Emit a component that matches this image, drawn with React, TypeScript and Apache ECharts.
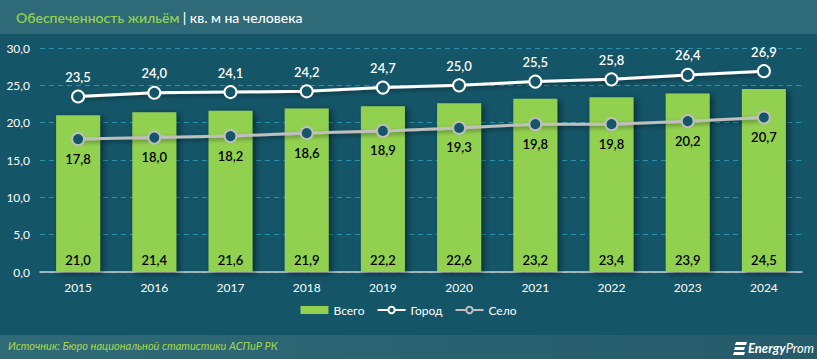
import React, { useEffect, useRef } from "react";
import * as echarts from "echarts";

const years = ["2015", "2016", "2017", "2018", "2019", "2020", "2021", "2022", "2023", "2024"];
const total = [21.0, 21.4, 21.6, 21.9, 22.2, 22.6, 23.2, 23.4, 23.9, 24.5];
const city = [23.5, 24.0, 24.1, 24.2, 24.7, 25.0, 25.5, 25.8, 26.4, 26.9];
const village = [17.8, 18.0, 18.2, 18.6, 18.9, 19.3, 19.8, 19.8, 20.2, 20.7];

const BG = "#145567";
const fmt = (v: number) => v.toFixed(1).replace(".", ",");
const FONT = "Lato";

export default function App() {
  const ref = useRef<HTMLDivElement>(null);
  useEffect(() => {
    document.body.style.margin = "0";
    const chart = echarts.init(ref.current!, undefined, { renderer: "svg" });
    chart.setOption({
      animation: false,
      backgroundColor: BG,
      textStyle: { fontFamily: FONT },
      grid: { left: 40, right: 15, top: 48, bottom: 87 },
      legend: {
        bottom: 38,
        left: "center",
        itemWidth: 28,
        itemHeight: 8,
        itemGap: 12,
        textStyle: { color: "#ffffff", fontSize: 12, fontFamily: FONT },
        data: [
          { name: "Всего", icon: "rect" },
          { name: "Город" },
          { name: "Село" },
        ],
      },
      xAxis: {
        type: "category",
        data: years,
        axisLine: { lineStyle: { color: "#d0d0d0", width: 1.5 } },
        axisTick: { show: false },
        axisLabel: { color: "#ffffff", fontSize: 12, margin: 9 },
      },
      yAxis: {
        type: "value",
        min: 0,
        max: 30,
        interval: 5,
        axisLine: { show: false },
        axisTick: { show: false },
        splitLine: { lineStyle: { color: "#2b93ad", type: [5, 4], width: 1 } },
        axisLabel: { color: "#ffffff", fontSize: 12, margin: 10, formatter: (v: number) => fmt(v) },
      },
      series: [
        {
          name: "Всего",
          type: "bar",
          data: total,
          barWidth: 44,
          itemStyle: {
            color: "#92d050",
            shadowColor: "rgba(0,0,0,0.45)",
            shadowBlur: 6,
            shadowOffsetX: 3,
            shadowOffsetY: 2,
          },
          label: {
            show: true,
            position: "insideBottom",
            distance: 6,
            color: "#000000",
            fontSize: 13,
            fontWeight: 600,
            formatter: (p: any) => fmt(p.value),
          },
          z: 1,
        },
        {
          name: "Город",
          type: "line",
          data: city,
          symbol: "circle",
          symbolSize: 12,
          lineStyle: { color: "#ffffff", width: 3, shadowColor: "rgba(0,0,0,0.4)", shadowBlur: 4, shadowOffsetY: 2 },
          itemStyle: { color: BG, borderColor: "#ffffff", borderWidth: 2 },
          label: {
            show: true,
            position: "top",
            distance: 6,
            color: "#ffffff",
            fontSize: 13,
            fontWeight: 600,
            formatter: (p: any) => fmt(p.value),
          },
          z: 3,
        },
        {
          name: "Село",
          type: "line",
          data: village,
          symbol: "circle",
          symbolSize: 12,
          lineStyle: { color: "#bfbfbf", width: 3, shadowColor: "rgba(0,0,0,0.4)", shadowBlur: 4, shadowOffsetY: 2 },
          itemStyle: { color: BG, borderColor: "#bfbfbf", borderWidth: 2 },
          label: {
            show: true,
            position: "bottom",
            distance: 6,
            color: "#000000",
            fontSize: 13,
            fontWeight: 600,
            formatter: (p: any) => fmt(p.value),
          },
          z: 3,
        },
      ],
      graphic: [
        {
          type: "rect",
          left: 0,
          top: 0,
          shape: { width: 817, height: 34 },
          style: {
            fill: new echarts.graphic.LinearGradient(0, 0, 1, 0, [
              { offset: 0, color: "#2f6a79" },
              { offset: 1, color: "#2f6a7b" },
            ]),
          },
          z: -1,
        },
        {
          type: "text",
          left: 16,
          top: 10,
          style: {
            text: "{g|Обеспеченность жильём} {w|| кв. м на человека}",
            rich: {
              g: { fill: "#92d050", fontSize: 14, fontWeight: 600, fontFamily: FONT },
              w: { fill: "#ffffff", fontSize: 14, fontWeight: 500, fontFamily: FONT },
            },
          },
        },
        {
          type: "rect",
          left: 0,
          top: 335,
          shape: { width: 817, height: 24 },
          style: {
            fill: new echarts.graphic.LinearGradient(0, 0, 1, 0, [
              { offset: 0, color: "#2f6a79" },
              { offset: 1, color: "#255a6a" },
            ]),
          },
          z: -1,
        },
        {
          type: "text",
          left: 8,
          top: 340,
          style: {
            text: "Источник: Бюро национальной статистики АСПиР РК",
            fill: "#a8d84a",
            fontSize: 11,
            fontStyle: "italic",
            fontFamily: FONT,
          },
        },
        {
          type: "group",
          left: 733,
          top: 341,
          children: [
            { type: "polygon", shape: { points: [[2, 0], [13, 0], [12, 3], [1, 3]] }, style: { fill: "#ffffff" } },
            { type: "polygon", shape: { points: [[1, 5], [11, 5], [10, 8], [0, 8]] }, style: { fill: "#ffffff" } },
            { type: "polygon", shape: { points: [[0, 10], [11, 10], [10, 13], [-1, 13]] }, style: { fill: "#ffffff" } },
            {
              type: "text",
              x: 14,
              y: -1,
              style: {
                text: "{b|Energy}{n|Prom}",
                rich: {
                  b: { fill: "#ffffff", fontSize: 13, fontWeight: 700, fontStyle: "italic", fontFamily: FONT },
                  n: { fill: "#ffffff", fontSize: 13, fontWeight: 400, fontStyle: "italic", fontFamily: FONT },
                },
              },
            },
          ],
        },
      ],
    });
    return () => chart.dispose();
  }, []);
  return <div ref={ref} style={{ width: 817, height: 359, position: "absolute", left: 0, top: 0 }} />;
}
